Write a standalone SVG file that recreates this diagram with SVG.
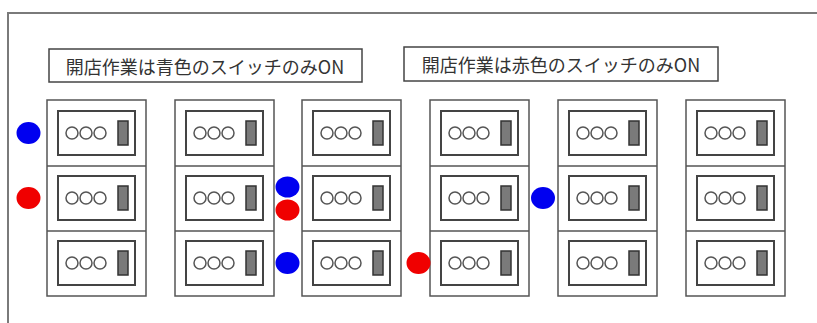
<svg xmlns="http://www.w3.org/2000/svg" width="817" height="323" viewBox="0 0 817 323">
<defs>
<style>
.frame{fill:none;stroke:#7a7a7a;stroke-width:2}
.label rect{fill:#fff;stroke:#444;stroke-width:1.5}
.label text{font-family:"Noto Sans CJK JP","Noto Sans",sans-serif;font-size:18px;fill:#333;text-anchor:middle;dominant-baseline:central}
.cab{fill:#fff;stroke:#555;stroke-width:1.5}
.div{stroke:#555;stroke-width:1.5}
.inner{fill:#fff;stroke:#444;stroke-width:2}
.knob{fill:#fff;stroke:#555;stroke-width:1.5}
.sw{fill:#7a7a7a;stroke:#333;stroke-width:1.5}
.blue{fill:#0000f0}
.red{fill:#f00000}
</style>
<g id="unit">
<rect class="inner" x="11" y="11" width="77" height="44"/>
<circle class="knob" cx="25" cy="33" r="6"/>
<circle class="knob" cx="39" cy="33" r="6"/>
<circle class="knob" cx="53" cy="33" r="6"/>
<rect class="sw" x="71" y="21" width="10" height="24"/>
</g>
<g id="column">
<rect class="cab" x="0" y="0" width="99" height="196"/>
<line class="div" x1="0" y1="66" x2="99" y2="66"/>
<line class="div" x1="0" y1="131" x2="99" y2="131"/>
<use href="#unit" x="0" y="0"/>
<use href="#unit" x="0" y="65"/>
<use href="#unit" x="0" y="130"/>
</g>
</defs>
<rect width="817" height="323" fill="#fff"/>
<path class="frame" d="M8 323 V13 H817"/>
<g id="label1" class="label">
<rect x="49" y="49" width="313" height="33"/>
<text x="205" y="66">開店作業は青色のスイッチのみON</text>
</g>
<g id="label2" class="label">
<rect x="404" y="47" width="314" height="34"/>
<text x="561" y="64">開店作業は赤色のスイッチのみON</text>
</g>
<g id="col1"><use href="#column" x="47" y="100"/></g>
<g id="col2"><use href="#column" x="175" y="100"/></g>
<g id="col3"><use href="#column" x="302" y="100"/></g>
<g id="col4"><use href="#column" x="430" y="100"/></g>
<g id="col5"><use href="#column" x="558" y="100"/></g>
<g id="col6"><use href="#column" x="686" y="100"/></g>
<g id="dots">
<ellipse class="blue" cx="28.5" cy="133" rx="12" ry="11"/>
<ellipse class="red" cx="28.5" cy="198" rx="12" ry="11"/>
<ellipse class="blue" cx="287.5" cy="187" rx="12" ry="10.5"/>
<ellipse class="red" cx="287.5" cy="210" rx="12" ry="10.5"/>
<ellipse class="blue" cx="287.5" cy="263" rx="12" ry="11"/>
<ellipse class="red" cx="418.5" cy="263" rx="12" ry="11"/>
<ellipse class="blue" cx="543" cy="198" rx="12" ry="11"/>
</g>
</svg>
